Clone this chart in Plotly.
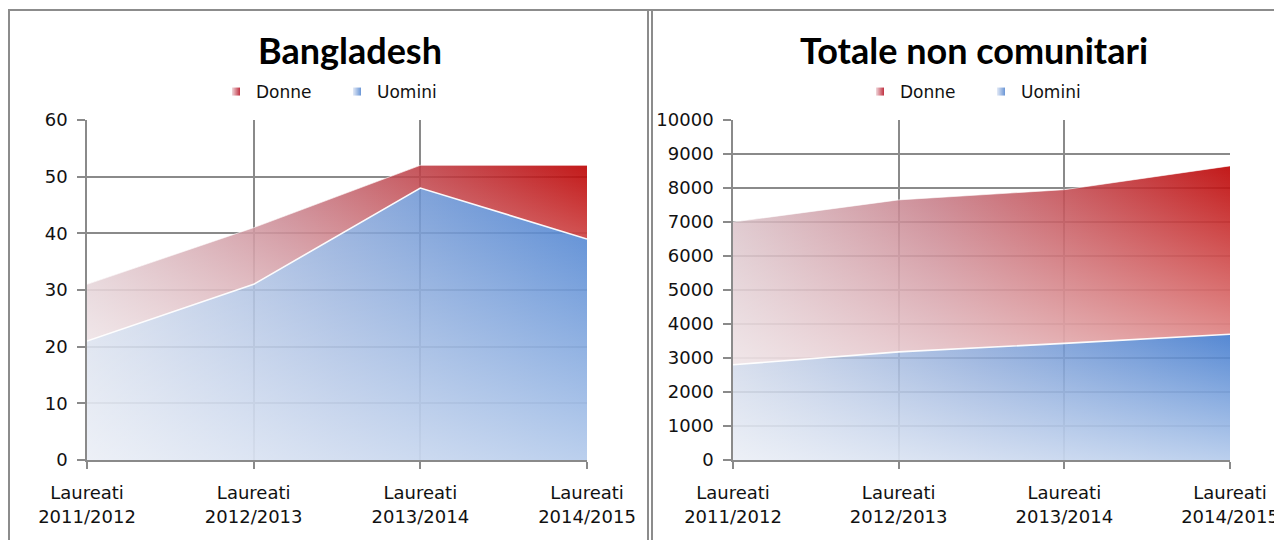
import plotly.graph_objects as go

# ---------------- data ----------------
categories = ["Laureati<br>2011/2012", "Laureati<br>2012/2013",
              "Laureati<br>2013/2014", "Laureati<br>2014/2015"]
bangladesh_uomini = [21, 31, 48, 39]
bangladesh_donne = [10, 10, 4, 13]
totale_uomini = [2800, 3180, 3430, 3700]
totale_donne = [4200, 4470, 4520, 4950]
panel_titles = ["Bangladesh", "Totale non comunitari"]
series_names = ["Donne", "Uomini"]
y_max = [60, 10000]
y_step = [10, 1000]

# page body has an 8px margin: the figure starts at screen (8, 8)
OFF = 8
W, H = 1282 - OFF, 540 - OFF
FONT = "DejaVu Sans"
GRID = "#8a8a8a"

def px_x(v):
    return (v - OFF) / W

def px_y(v):
    return (H - (v - OFF)) / H

BLUE_H = [[0, "rgba(200,210,230,0.82)"], [0.5, "rgba(128,160,214,0.84)"], [1, "rgba(62,120,205,0.88)"]]
RED_H = [[0, "rgba(210,180,188,0.82)"], [0.4, "rgba(190,105,118,0.84)"], [1, "rgba(188,0,0,0.9)"]]
WHITE_V = [[0, "rgba(255,255,255,0.6)"], [1, "rgba(255,255,255,0)"]]

fig = go.Figure()

panels = [
    (bangladesh_uomini, bangladesh_donne, "x", "y", "legend"),
    (totale_uomini, totale_donne, "x2", "y2", "legend2"),
]

for uomini, donne, xa, ya, lg in panels:
    total = [u + d for u, d in zip(uomini, donne)]
    common = dict(x=categories, xaxis=xa, yaxis=ya, showlegend=False, hoverinfo="skip")
    fig.add_trace(go.Scatter(y=uomini, mode="lines", line=dict(width=0), fill="tozeroy",
                             fillgradient=dict(type="horizontal", colorscale=BLUE_H), **common))
    fig.add_trace(go.Scatter(y=uomini, mode="lines", line=dict(width=0), fill="tozeroy",
                             fillgradient=dict(type="vertical", colorscale=WHITE_V), **common))
    fig.add_trace(go.Scatter(y=total, mode="lines", line=dict(width=0), fill="tonexty",
                             fillgradient=dict(type="horizontal", colorscale=RED_H), **common))
    fig.add_trace(go.Scatter(y=uomini, mode="lines", line=dict(width=0), **common))
    fig.add_trace(go.Scatter(y=total, mode="lines", line=dict(width=0), fill="tonexty",
                             fillgradient=dict(type="vertical", colorscale=WHITE_V), **common))
    fig.add_trace(go.Scatter(y=uomini, mode="lines", line=dict(width=1.6, color="rgba(255,255,255,0.95)"), **common))
    fig.add_trace(go.Scatter(y=total, mode="lines", line=dict(width=1, color="rgba(255,255,255,0.6)"), **common))
    fig.add_trace(go.Scatter(x=[None], y=[None], xaxis=xa, yaxis=ya, mode="markers", name=series_names[0],
                             legend=lg,
                             marker=dict(symbol="square", size=8, color="#f0d8dc",
                                         gradient=dict(type="horizontal", color="#c03040"))))
    fig.add_trace(go.Scatter(x=[None], y=[None], xaxis=xa, yaxis=ya, mode="markers", name=series_names[1],
                             legend=lg,
                             marker=dict(symbol="square", size=8, color="#e4eaf6",
                                         gradient=dict(type="horizontal", color="#6a96d6"))))

x_domains = [[px_x(87), px_x(587)], [px_x(733), px_x(1230)]]
y_domain = [px_y(460), px_y(120)]

axis_common_x = dict(type="category", range=[0, 3], showgrid=True, gridcolor=GRID, gridwidth=1.6,
                     ticks="outside", ticklen=7, tickcolor=GRID, tickwidth=1.6, showline=True,
                     linecolor=GRID, linewidth=1.6,
                     tickfont=dict(family=FONT, size=18, color="#111"), zeroline=False,
                     ticklabelstandoff=9, fixedrange=True, automargin=False)
axis_common_y = dict(showgrid=True, gridcolor=GRID, gridwidth=1.6, ticks="outside", ticklen=8,
                     tickcolor=GRID, tickwidth=1.6, showline=True, linecolor=GRID, linewidth=1.6,
                     zeroline=False, tickformat="d", ticklabelstandoff=6,
                     tickfont=dict(family=FONT, size=18, color="#111"), fixedrange=True, automargin=False)

legend_common = dict(orientation="h", xanchor="center", yanchor="middle",
                     font=dict(family=FONT, size=17, color="#111"), bgcolor="rgba(0,0,0,0)",
                     itemwidth=30, entrywidth=76, traceorder="normal")

fig.update_layout(
    template="none",
    width=W, height=H, autosize=False,
    margin=dict(l=0, r=0, t=0, b=0, pad=0),
    paper_bgcolor="white", plot_bgcolor="white",
    xaxis=dict(domain=x_domains[0], anchor="y", **axis_common_x),
    yaxis=dict(domain=y_domain, anchor="x", range=[0, y_max[0]], dtick=y_step[0], **axis_common_y),
    xaxis2=dict(domain=x_domains[1], anchor="y2", **axis_common_x),
    yaxis2=dict(domain=y_domain, anchor="x2", range=[0, y_max[1]], dtick=y_step[1], **axis_common_y),
    legend=dict(x=px_x(337), y=px_y(92), **legend_common),
    legend2=dict(x=px_x(981), y=px_y(92), **legend_common),
    annotations=[
        dict(text="<b>%s</b>" % panel_titles[0], x=px_x(350), y=px_y(50), xref="paper", yref="paper",
             showarrow=False, font=dict(family="Lato", size=36, color="#000"), xanchor="center", yanchor="middle"),
        dict(text="<b>%s</b>" % panel_titles[1], x=px_x(974), y=px_y(50), xref="paper", yref="paper",
             showarrow=False, font=dict(family="Lato", size=36, color="#000"), xanchor="center", yanchor="middle"),
    ],
    shapes=[
        dict(type="line", xref="paper", yref="paper", x0=0, x1=1.0, y0=px_y(10), y1=px_y(10),
             line=dict(color="#8c8c8c", width=2)),
        dict(type="line", xref="paper", yref="paper", x0=px_x(9), x1=px_x(9), y0=px_y(10), y1=0,
             line=dict(color="#8c8c8c", width=2)),
        dict(type="line", xref="paper", yref="paper", x0=px_x(648), x1=px_x(648), y0=px_y(10), y1=0,
             line=dict(color="#8c8c8c", width=2)),
        dict(type="line", xref="paper", yref="paper", x0=px_x(652), x1=px_x(652), y0=px_y(10), y1=0,
             line=dict(color="#8c8c8c", width=2)),
    ],
)

fig.write_html("out.html")
